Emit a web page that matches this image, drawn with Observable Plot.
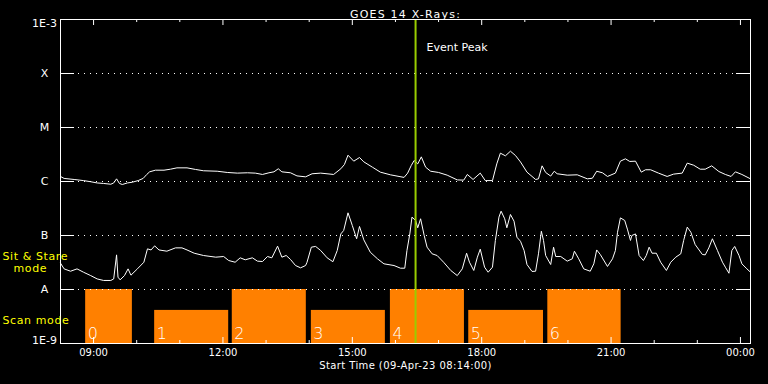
<!DOCTYPE html>
<html><head><meta charset="utf-8">
<script src="https://cdn.jsdelivr.net/npm/d3@7"></script>
<script src="https://cdn.jsdelivr.net/npm/@observablehq/plot@0.6"></script>
<style>html,body{margin:0;padding:0;background:#000;}#chart{width:768px;height:384px;}</style>
</head><body><div id="chart"></div>
<script>
// GOES 14 long channel (1-8 Å), W/m^2
const longTimes = ["08:14","08:19","08:33","08:46","08:56","09:05","09:14","09:24","09:28","09:32","09:36","09:40","09:47","09:54","10:02","10:09","10:14","10:18","10:26","10:38","10:47","10:56","11:10","11:22","11:33","11:52","12:06","12:20","12:34","12:45","12:55","13:04","13:11","13:17","13:22","13:34","13:43","13:55","14:04","14:16","14:34","14:44","14:49","14:54","15:02","15:10","15:16","15:28","15:39","15:53","16:12","16:17","16:22","16:26","16:31","16:36","16:42","16:49","17:00","17:12","17:26","17:35","17:40","17:48","17:58","18:05","18:15","18:21","18:26","18:33","18:40","18:47","18:54","19:03","19:15","19:19","19:24","19:29","19:36","19:41","19:45","19:59","20:13","20:27","20:34","20:40","20:48","20:55","21:06","21:13","21:20","21:26","21:34","21:42","21:48","21:55","22:06","22:18","22:27","22:39","22:46","22:55","23:04","23:11","23:20","23:30","23:39","23:47","23:53","00:02","00:14"];
const longFlux = [1.24e-6,1.14e-6,1.09e-6,1.04e-6,0.99e-6,0.94e-6,0.92e-6,0.89e-6,0.94e-6,1.12e-6,0.92e-6,0.88e-6,0.94e-6,0.97e-6,1.04e-6,1.14e-6,1.35e-6,1.51e-6,1.62e-6,1.62e-6,1.69e-6,1.79e-6,1.79e-6,1.67e-6,1.58e-6,1.55e-6,1.47e-6,1.43e-6,1.45e-6,1.43e-6,1.35e-6,1.45e-6,1.51e-6,1.72e-6,1.51e-6,1.45e-6,1.27e-6,1.22e-6,1.39e-6,1.43e-6,1.35e-6,1.72e-6,2.06e-6,3.07e-6,2.38e-6,2.78e-6,2.31e-6,1.84e-6,1.49e-6,1.33e-6,1.19e-6,1.43e-6,1.98e-6,2.45e-6,2.12e-6,2.86e-6,1.84e-6,1.55e-6,1.47e-6,1.31e-6,1.07e-6,1.06e-6,1.35e-6,1.09e-6,1.43e-6,1.04e-6,1.04e-6,2.12e-6,3.35e-6,2.99e-6,3.64e-6,3.03e-6,2.3e-6,1.49e-6,1.09e-6,1.12e-6,1.95e-6,1.47e-6,1.26e-6,1.55e-6,1.39e-6,1.31e-6,1.33e-6,1.12e-6,1.15e-6,1.55e-6,1.45e-6,1.24e-6,1.43e-6,2.38e-6,2.63e-6,2.35e-6,2.38e-6,1.49e-6,1.65e-6,1.65e-6,1.43e-6,1.24e-6,1.37e-6,1.43e-6,2.19e-6,2.0e-6,1.69e-6,1.69e-6,1.95e-6,1.53e-6,1.35e-6,1.24e-6,1.51e-6,1.35e-6,1.12e-6];

// GOES 14 short channel (0.5-4 Å), W/m^2
const shortTimes = ["08:14","08:19","08:28","08:37","08:46","08:56","09:05","09:14","09:24","09:28","09:32","09:34","09:37","09:43","09:48","09:52","10:01","10:10","10:15","10:20","10:25","10:31","10:42","10:54","11:03","11:10","11:20","11:33","11:50","12:01","12:08","12:17","12:24","12:31","12:41","12:48","12:55","13:02","13:08","13:16","13:22","13:28","13:34","13:41","13:48","13:55","13:57","14:03","14:09","14:16","14:25","14:33","14:39","14:44","14:48","14:54","15:00","15:06","15:10","15:16","15:25","15:35","15:44","15:58","16:07","16:13","16:16","16:20","16:23","16:28","16:31","16:35","16:40","16:44","16:51","16:58","17:07","17:17","17:26","17:33","17:39","17:43","17:49","17:54","17:58","18:04","18:09","18:15","18:19","18:24","18:27","18:32","18:35","18:40","18:45","18:49","18:54","18:59","19:03","19:10","19:15","19:19","19:23","19:26","19:29","19:36","19:40","19:43","19:50","19:59","20:06","20:09","20:15","20:22","20:31","20:36","20:40","20:45","20:55","21:02","21:06","21:09","21:13","21:19","21:23","21:27","21:29","21:34","21:39","21:45","21:49","21:53","21:57","22:03","22:09","22:17","22:23","22:30","22:37","22:41","22:46","22:51","22:57","23:07","23:11","23:16","23:21","23:28","23:35","23:39","23:44","23:48","23:52","23:58","00:02","00:09","00:14"];
const shortFlux = [3.07e-8,2.41e-8,2.18e-8,2.41e-8,2.09e-8,1.81e-8,1.57e-8,1.47e-8,1.47e-8,1.57e-8,4.38e-8,1.69e-8,1.51e-8,1.81e-8,2.41e-8,1.84e-8,2.41e-8,3.2e-8,5.66e-8,5.4e-8,6.43e-8,5.4e-8,5.12e-8,5.9e-8,5.9e-8,5.4e-8,4.7e-8,4.26e-8,3.97e-8,4.08e-8,3.44e-8,3.2e-8,3.86e-8,3.55e-8,3.86e-8,3.35e-8,3.3e-8,4.08e-8,3.86e-8,6.35e-8,3.97e-8,4.26e-8,3.6e-8,2.78e-8,2.52e-8,2.78e-8,3.2e-8,6.08e-8,6.27e-8,5.27e-8,3.86e-8,3.27e-8,5.27e-8,1.07e-7,1.24e-7,2.63e-7,1.53e-7,8.7e-8,1.47e-7,8.3e-8,4.91e-8,3.7e-8,2.99e-8,2.78e-8,2.48e-8,2.48e-8,5.27e-8,1.07e-7,2.19e-7,1.9e-7,1.39e-7,2.04e-7,1.0e-7,6.08e-8,4.58e-8,4.26e-8,3.2e-8,2.25e-8,1.81e-8,2.41e-8,4.7e-8,3.2e-8,2.25e-8,3.97e-8,5.58e-8,2.59e-8,2.09e-8,2.59e-8,8.08e-8,2.19e-7,2.82e-7,2.04e-7,1.39e-7,2.45e-7,1.84e-7,9.3e-8,7.8e-8,5.27e-8,2.9e-8,2.16e-8,2.18e-8,4.58e-8,1.2e-7,8.1e-8,4.26e-8,2.9e-8,6.08e-8,4.08e-8,4.08e-8,3.35e-8,3.7e-8,5.12e-8,3.7e-8,2.41e-8,2.18e-8,2.99e-8,5.4e-8,4.45e-8,2.67e-8,3.7e-8,5.27e-8,1.15e-7,2.12e-7,1.9e-7,1.27e-7,8.1e-8,1.0e-7,1.07e-7,4.26e-8,3.44e-8,4.26e-8,6.08e-8,4.7e-8,4.7e-8,3.2e-8,2.25e-8,3.2e-8,3.97e-8,4.58e-8,8.1e-8,1.43e-7,1.15e-7,6.8e-8,4.45e-8,4.38e-8,5.9e-8,8.7e-8,5.27e-8,3.2e-8,2.59e-8,2.0e-8,5.27e-8,6.27e-8,4.26e-8,2.99e-8,2.41e-8,2.09e-8];

// Observation mode bars
const barIds = ["0","1","2","3","4","5","6"];
const barStarts = ["08:49","10:25","12:13","14:03","15:53","17:42","19:32"];
const barEnds = ["09:54","12:08","13:56","15:46","17:36","19:26","21:14"];
const barTops = [1e-8,4.1e-9,1e-8,4.1e-9,1e-8,4.1e-9,1e-8];

const eventPeak = "16:28";
const startTime = "08:14";
const endTime = "00:14";

const yTickValues = [1e-3,1e-4,1e-5,1e-6,1e-7,1e-8,1e-9];
const yTickLabels = ["1E-3","X","M","C","B","A","1E-9"];
const hourTicks = ["09:00","10:00","11:00","12:00","13:00","14:00","15:00","16:00","17:00","18:00","19:00","20:00","21:00","22:00","23:00","00:00"];
const majorTicks = ["09:00","12:00","15:00","18:00","21:00","00:00"];

const titleText = "GOES 14 X-Rays:";
const xLabelText = "Start Time (09-Apr-23 08:14:00)";
const modeLabels = ["Sit & Stare", "mode", "Scan mode"];

function toDate(s) {
  const [h, m] = s.split(":").map(Number);
  return new Date(Date.UTC(2023, 3, h < 8 ? 10 : 9, h, m));
}

const longData = longTimes.map((t, i) => ({t: toDate(t), v: longFlux[i]}));
const shortData = shortTimes.map((t, i) => ({t: toDate(t), v: shortFlux[i]}));
const bars = barIds.map((id, i) => ({id, x1: toDate(barStarts[i]), x2: toDate(barEnds[i]), top: barTops[i]}));
const yTicks = yTickValues.map((v, i) => ({v, label: yTickLabels[i]}));
const gridVals = yTickValues.slice(1, -1);
const minorT = hourTicks.filter(h => !majorTicks.includes(h)).map(toDate);
const majorT = majorTicks.map(toDate);

const W = 768, H = 384, mL = 60, mR = 18, mT = 19, mB = 41;
const pw = W - mL - mR, ph = H - mT - mB;
const white = "white";
const yellow = "#ffff00";

const chart = Plot.plot({
  width: W, height: H,
  marginLeft: mL, marginRight: mR, marginTop: mT, marginBottom: mB,
  style: {background: "black", color: white, fontFamily: "DejaVu Sans", fontSize: "11px"},
  x: {type: "utc", domain: [toDate(startTime), toDate(endTime)], axis: null},
  y: {type: "log", domain: [1e-9, 1e-3], axis: null},
  marks: [
    Plot.rectY(bars, {x1: "x1", x2: "x2", y1: () => 1e-9, y2: "top", fill: "#ff8000"}),
    Plot.text(bars, {x: "x1", y: () => 1e-9, text: "id", dx: 2, dy: -10, textAnchor: "start", fill: white, fontSize: 16, fontWeight: 300}),
    Plot.ruleY(gridVals, {stroke: white, strokeDasharray: "1,5"}),
    Plot.tickY(gridVals, {stroke: white, insetRight: pw - 14}),
    Plot.tickY(gridVals, {stroke: white, insetLeft: pw - 14}),
    Plot.tickX(minorT, {stroke: white, insetTop: ph - 3}),
    Plot.tickX(majorT, {stroke: white, insetTop: ph - 6}),
    Plot.tickX(minorT, {stroke: white, insetBottom: ph - 3}),
    Plot.tickX(majorT, {stroke: white, insetBottom: ph - 6}),
    Plot.line(longData, {x: "t", y: "v", stroke: white, strokeWidth: 1}),
    Plot.line(shortData, {x: "t", y: "v", stroke: white, strokeWidth: 1}),
    Plot.ruleX([toDate(eventPeak)], {stroke: "#99cc00", strokeWidth: 2}),
    Plot.text([toDate(eventPeak)], {x: d => d, text: () => "Event Peak", frameAnchor: "top", dy: 24, dx: 11, textAnchor: "start", fill: white}),
    Plot.frame({stroke: white}),
    Plot.text(majorTicks, {x: d => toDate(d), text: d => d, frameAnchor: "bottom", dy: 12, fill: white, fontSize: 10}),
    Plot.text([xLabelText], {frameAnchor: "bottom", dy: 25, fill: white, fontSize: 10}),
    Plot.text([titleText], {frameAnchor: "top", dy: -9, fill: white}),
    Plot.text(yTicks.slice(1, -1), {y: "v", text: "label", frameAnchor: "left", dx: -16, textAnchor: "middle", fill: white}),
    Plot.text(yTicks.slice(0, 1), {y: "v", text: "label", frameAnchor: "left", dx: -16, textAnchor: "middle", lineAnchor: "top", fill: white}),
    Plot.text(yTicks.slice(-1), {y: "v", text: "label", frameAnchor: "left", dx: -16, textAnchor: "middle", lineAnchor: "bottom", fill: white}),
    Plot.text([modeLabels[0]], {frameAnchor: "bottom-left", dx: -58, dy: -84, textAnchor: "start", fill: yellow}),
    Plot.text([modeLabels[1]], {frameAnchor: "bottom-left", dx: -47, dy: -72, textAnchor: "start", fill: yellow}),
    Plot.text([modeLabels[2]], {frameAnchor: "bottom-left", dx: -58, dy: -20, textAnchor: "start", fill: yellow})
  ]
});

// widen letter spacing to approximate the wide vector font of the original
const spacing = new Map([[titleText, "1.2px"], [xLabelText, "0.4px"], [modeLabels[0], "0.6px"], [modeLabels[1], "0.6px"], [modeLabels[2], "0.6px"]]);
d3.select(chart).selectAll("text").each(function () {
  const ls = spacing.get(this.textContent);
  if (ls) this.setAttribute("letter-spacing", ls);
});
document.getElementById("chart").appendChild(chart);
</script>
</body></html>
